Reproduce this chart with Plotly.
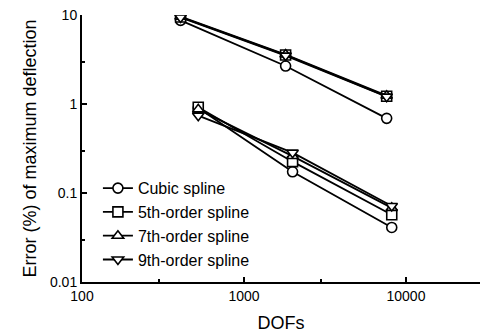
import plotly.graph_objects as go

names = ["Cubic spline", "5th-order spline", "7th-order spline", "9th-order spline"]
symbols = ["circle", "square", "triangle-up", "triangle-down"]

# group A (coarser start)
dofs_a = [406, 1807, 7600]
err_a = {
    "Cubic spline": [8.7, 2.67, 0.69],
    "5th-order spline": [9.5, 3.55, 1.22],
    "7th-order spline": [9.6, 3.6, 1.24],
    "9th-order spline": [9.4, 3.5, 1.21],
}
# group B
dofs_b = [522, 1995, 8170]
err_b = {
    "Cubic spline": [0.9, 0.173, 0.041],
    "5th-order spline": [0.92, 0.225, 0.057],
    "7th-order spline": [0.87, 0.26, 0.068],
    "9th-order spline": [0.74, 0.284, 0.0714],
}

fig = go.Figure()
for name, sym in zip(names, symbols):
    for dofs, err, show in [(dofs_a, err_a, True), (dofs_b, err_b, False)]:
        fig.add_trace(go.Scatter(
            x=dofs, y=err[name], name=name, legendgroup=name, showlegend=show,
            mode="lines+markers",
            line=dict(color="black", width=1.8),
            marker=dict(symbol=sym, size=10,
                        color="white", line=dict(color="black", width=1.6)),
        ))

font = "Liberation Sans, Arial, Helvetica, sans-serif"
fig.update_layout(
    width=480, height=336,
    margin=dict(l=82, r=0, t=15, b=54),
    paper_bgcolor="white", plot_bgcolor="white",
    font=dict(family=font, color="black", size=14),
    showlegend=True,
    legend=dict(x=0.04, y=0.415, xanchor="left", yanchor="top",
                bgcolor="rgba(0,0,0,0)", font=dict(size=16),
                tracegroupgap=0, itemwidth=30),
    xaxis=dict(type="log", range=[2, 4.457],
               tickvals=[100, 1000, 10000], ticktext=["100", "1000", "10000"],
               ticks="inside", ticklen=5, tickwidth=1.5, tickcolor="black",
               minor=dict(tickvals=[300, 3000, 30000], ticks="inside", ticklen=3,
                          tickwidth=1.5, tickcolor="black", showgrid=False),
               showline=True, linecolor="black", linewidth=2,
               showgrid=False, zeroline=False,
               title=dict(text="DOFs", font=dict(size=18), standoff=14),
               tickfont=dict(size=14)),
    yaxis=dict(type="log", range=[-2, 1],
               tickvals=[0.01, 0.1, 1, 10], ticktext=["0.01", "0.1", "1", "10"],
               ticks="inside", ticklen=5, tickwidth=1.5, tickcolor="black",
               minor=dict(tickvals=[0.03, 0.3, 3], ticks="inside", ticklen=3,
                          tickwidth=1.5, tickcolor="black", showgrid=False),
               showline=True, linecolor="black", linewidth=2,
               showgrid=False, zeroline=False,
               title=dict(text="Error (%) of maximum deflection", font=dict(size=18), standoff=9),
               tickfont=dict(size=14)),
)

fig.write_html("out.html")
